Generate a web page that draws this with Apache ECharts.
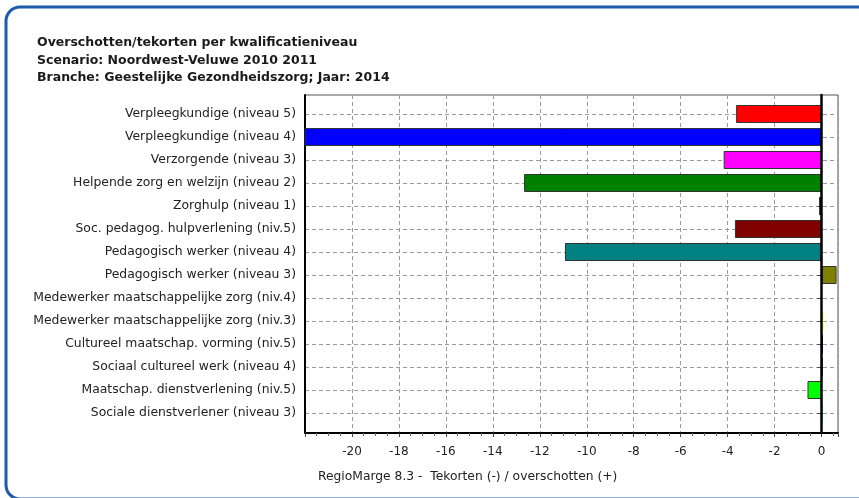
<!DOCTYPE html>
<html>
<head>
<meta charset="utf-8">
<script src="https://cdn.jsdelivr.net/npm/echarts@6/dist/echarts.min.js"></script>
<style>
    html, body { margin: 0; padding: 0; background: #fff; }
    #chart { width: 859px; height: 498px; }
</style>
</head>
<body>
<div id="chart"></div>
<script>
// categories top to bottom
const categories = [
    "Verpleegkundige (niveau 5)",
    "Verpleegkundige (niveau 4)",
    "Verzorgende (niveau 3)",
    "Helpende zorg en welzijn (niveau 2)",
    "Zorghulp (niveau 1)",
    "Soc. pedagog. hulpverlening (niv.5)",
    "Pedagogisch werker (niveau 4)",
    "Pedagogisch werker (niveau 3)",
    "Medewerker maatschappelijke zorg (niv.4)",
    "Medewerker maatschappelijke zorg (niv.3)",
    "Cultureel maatschap. vorming (niv.5)",
    "Sociaal cultureel werk (niveau 4)",
    "Maatschap. dienstverlening (niv.5)",
    "Sociale dienstverlener (niveau 3)"
];
// tekorten (-) / overschotten (+)
const values = [-3.64, -22.5, -4.17, -12.67, -0.1, -3.69, -10.93, 0.64, 0, 0.08, 0.06, 0.06, -0.6, 0.06];
const barColors = [
    "#ff0000", "#0000ff", "#ff00ff", "#008000", "#000000", "#800000", "#008080",
    "#808000", "#808080", "#ffff00", "#000080", "#800080", "#00ff00", "#00ffff"
];
const titleLines = [
    "Overschotten/tekorten per kwalificatieniveau",
    "Scenario: Noordwest-Veluwe 2010 2011",
    "Branche: Geestelijke Gezondheidszorg; Jaar: 2014"
];
const axisTitle = "RegioMarge 8.3 -  Tekorten (-) / overschotten (+)";
const xMin = -22, xMax = 0.7, xStep = 2;

const chart = echarts.init(document.getElementById("chart"));
const font = "'DejaVu Sans', Verdana, sans-serif";
const dashed = { color: "#9a9a9a", type: [4, 3], width: 1 };

const barData = values.map((v, i) => ({
    value: v,
    itemStyle: {
        color: barColors[i],
        borderColor: "#333",
        borderWidth: Math.abs(v) < 0.2 ? 0 : 1
    }
}));

const option = {
    animation: false,
    title: {
        text: titleLines.join("\n"),
        left: 32,
        top: 29,
        textStyle: { fontFamily: font, fontSize: 12.5, fontWeight: "bold", color: "#1a1a1a", lineHeight: 17.5 }
    },
    graphic: [
        {
            type: "rect",
            shape: { x: 6, y: 7, width: 1000, height: 492, r: 14 },
            style: { fill: "none", stroke: "#1f5ba8", lineWidth: 3 },
            z: -1
        },
        {
            type: "text",
            left: 318,
            top: 471,
            style: { text: axisTitle, font: "12.3px " + font, fill: "#222" }
        }
    ],
    grid: [
        { left: 305, right: 21, top: 95, bottom: 65, show: true, borderColor: "#555", borderWidth: 1 },
        { left: 305, right: 21, top: 114, bottom: 85 }
    ],
    xAxis: [
        {
            gridIndex: 0,
            type: "value",
            min: xMin,
            max: xMax,
            interval: xStep,
            axisLine: { show: true, onZero: false, lineStyle: { color: "#000", width: 2 } },
            axisTick: { show: true, length: 4, lineStyle: { color: "#444" } },
            minorTick: { show: true, splitNumber: 4, length: 3, lineStyle: { color: "#666" } },
            axisLabel: {
                showMinLabel: false, showMaxLabel: false, margin: 13,
                fontFamily: font, fontSize: 12, color: "#222"
            },
            splitLine: { show: true, lineStyle: dashed }
        },
        { gridIndex: 1, type: "value", min: xMin, max: xMax, show: false }
    ],
    yAxis: [
        {
            gridIndex: 0, type: "value", min: 0, max: 1, position: "left",
            axisLine: { show: true, onZero: false, lineStyle: { color: "#000", width: 2 } },
            axisTick: { show: false }, axisLabel: { show: false }, splitLine: { show: false }
        },
        {
            gridIndex: 0, type: "value", min: 0, max: 1, position: "right",
            axisLine: { show: true, onZero: true, lineStyle: { color: "#000", width: 2.5 } },
            axisTick: { show: false }, axisLabel: { show: false }, splitLine: { show: false },
            z: 5
        },
        {
            gridIndex: 1,
            type: "category",
            data: categories,
            inverse: true,
            boundaryGap: false,
            axisLine: { show: false },
            axisTick: { show: true, length: 4, lineStyle: { color: "#444" } },
            axisLabel: { margin: 9, fontFamily: font, fontSize: 12.4, color: "#222" },
            splitLine: { show: true, lineStyle: dashed }
        }
    ],
    series: [
        {
            type: "bar",
            xAxisIndex: 1,
            yAxisIndex: 2,
            barWidth: 18,
            data: barData,
            z: 3
        }
    ]
};
chart.setOption(option);
</script>
</body>
</html>
